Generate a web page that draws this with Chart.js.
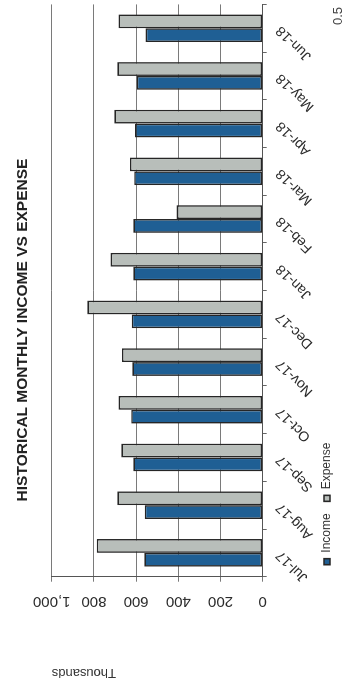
<!DOCTYPE html>
<html>
<head>
<meta charset="utf-8">
<script src="https://cdn.jsdelivr.net/npm/chart.js@4.4.1/dist/chart.umd.min.js"></script>
<style>
    html, body { margin: 0; padding: 0; background: #fff; overflow: hidden; width: 347px; height: 683px; }
    /* the scanned page is turned a quarter turn, so the whole chart is drawn upright and rotated */
    #wrap { position: absolute; left: 0; top: 0; width: 683px; height: 347px; transform-origin: 0 0; transform: translateY(683px) rotate(-90deg); }
    #chart { display: block; }
    #page { position: absolute; left: 658px; top: 331px; font: 13px "Liberation Sans", Arial, sans-serif; line-height: 13px; color: #444; }
</style>
</head>
<body>
<div id="wrap">
    <canvas id="chart" width="683" height="347"></canvas>
    <span id="page">0.5</span>
</div>
<script>
const months = ["Jul-17", "Aug-17", "Sep-17", "Oct-17", "Nov-17", "Dec-17", "Jan-18", "Feb-18", "Mar-18", "Apr-18", "May-18", "Jun-18"];
const income = [561, 559, 613, 623, 618, 621, 613, 613, 609, 605, 597, 555];
const expense = [787, 689, 670, 683, 667, 831, 721, 408, 629, 703, 689, 684];
const valueTicks = [0, 200, 400, 600, 800, 1000];

Chart.defaults.font.family = '"Liberation Sans", Arial, sans-serif';
Chart.defaults.color = "#2b2b2b";

const chartCtx = document.getElementById("chart").getContext("2d");

new Chart(chartCtx, {
    type: "bar",
    data: {
        labels: months,
        datasets: [
            {
                label: "Income",
                data: income,
                backgroundColor: "#1f5f94",
                borderColor: "#262626",
                borderWidth: 1.6,
                borderSkipped: false,
            },
            {
                label: "Expense",
                data: expense,
                backgroundColor: "#b8beba",
                borderColor: "#262626",
                borderWidth: 1.6,
                borderSkipped: false,
            },
        ],
    },
    options: {
        responsive: false,
        animation: false,
        layout: { padding: { left: 27.4, right: 4.4, top: 0, bottom: 4 } },
        datasets: { bar: { categoryPercentage: 0.58, barPercentage: 1.0 } },
        plugins: {
            title: {
                display: true,
                text: "HISTORICAL MONTHLY INCOME VS EXPENSE",
                color: "#222",
                font: { size: 15.5, weight: "bold" },
                padding: { top: 13, bottom: 20.1 },
            },
            legend: {
                position: "bottom",
                align: "start",
                fullSize: false,
                labels: {
                    boxWidth: 6,
                    boxHeight: 6,
                    padding: 12,
                    color: "#333",
                    font: { size: 12 },
                },
            },
            tooltip: { enabled: false },
        },
        scales: {
            x: {
                grid: { display: true, drawOnChartArea: false, drawTicks: true, tickLength: 4, color: "#666" },
                border: { display: true, color: "#555", width: 1 },
                ticks: { minRotation: 45, maxRotation: 45, autoSkip: false, padding: 6, font: { size: 14 }, color: "#2b2b2b" },
                afterFit: (scale) => {
                    scale.height = 46.3;
                    // month labels run a little past the axis box, as in the scan
                    scale._computeLabelArea = () => undefined;
                },
            },
            y: {
                min: 0,
                max: 1000,
                afterBuildTicks: (scale) => { scale.ticks = valueTicks.map((v) => ({ value: v })); },
                grid: { color: "#7a7a7a", lineWidth: 1, tickLength: 5 },
                border: { display: true, color: "#555", width: 1 },
                ticks: {
                    minRotation: 90,
                    maxRotation: 90,
                    autoSkip: false,
                    crossAlign: "center",
                    padding: 1,
                    font: { size: 15 },
                    color: "#2b2b2b",
                    callback: (v) => v.toLocaleString("en-US"),
                },
                title: {
                    display: true,
                    text: "Thousands",
                    align: "end",
                    color: "#333",
                    font: { size: 13 },
                    padding: { top: -24.7, bottom: 0 },
                },
                afterFit: (scale) => { scale.width = 78.9; },
            },
        },
    },
});
</script>
</body>
</html>
